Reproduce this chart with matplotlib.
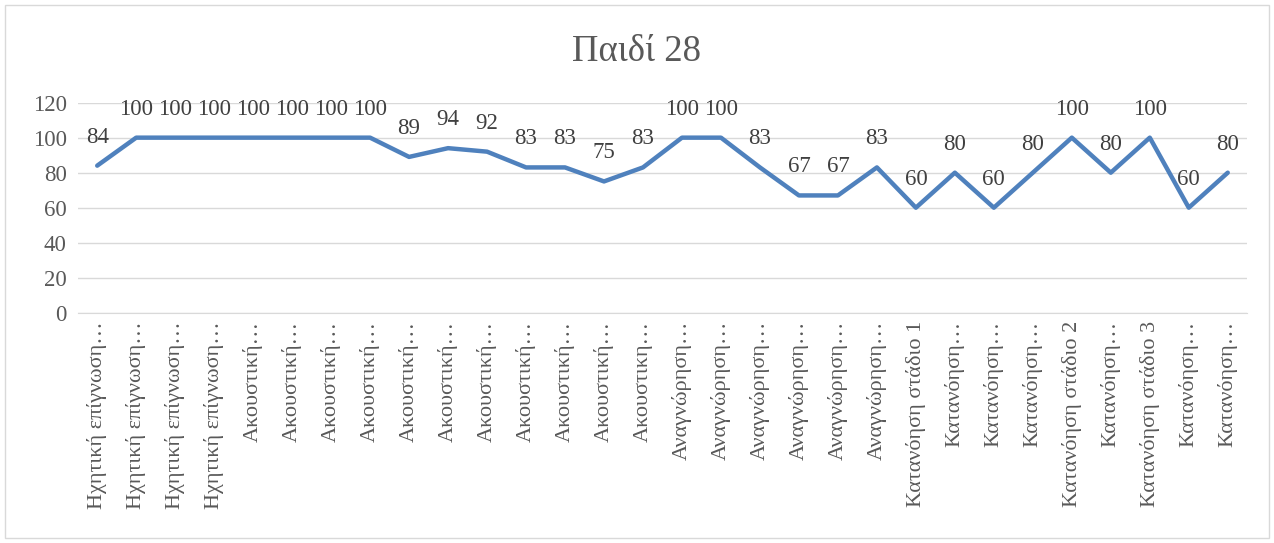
import matplotlib.pyplot as plt
from matplotlib.patches import Rectangle

plt.rcParams['font.family'] = ['Liberation Serif', 'DejaVu Serif']

labels = (['Ηχητική επίγνωση…'] * 4 + ['Ακουστική…'] * 10 + ['Ακουστικη…']
          + ['Αναγνώρηση…'] * 6
          + ['Κατανόηση στάδιο 1', 'Κατανόηση…', 'Κατανόηση…', 'Κατανόηση…',
             'Κατανόηση στάδιο 2', 'Κατανόηση…', 'Κατανόηση στάδιο 3',
             'Κατανόηση…', 'Κατανόηση…'])
values = [84, 100, 100, 100, 100, 100, 100, 100, 89, 94, 92, 83, 83, 75, 83,
          100, 100, 83, 67, 67, 83, 60, 80, 60, 80, 100, 80, 100, 60, 80]
yticks = [0, 20, 40, 60, 80, 100, 120]
title = 'Παιδί 28'

fig = plt.figure(figsize=(12.74, 5.43), dpi=100)
fig.patches.append(Rectangle((0.004, 0.01), 0.992, 0.98, transform=fig.transFigure,
                             fill=False, edgecolor='#d9d9d9', linewidth=1))
ax = fig.add_axes([0.061, 0.424, 0.918, 0.387])

x = list(range(len(values)))
ax.plot(x, values, color='#4f81bd', linewidth=3.2, solid_capstyle='round',
        solid_joinstyle='round', zorder=3)
for xi, v in zip(x, values):
    ax.annotate(str(v), (xi, v), xytext=(0, 13), textcoords='offset points',
                ha='center', va='bottom', fontsize=16.5, color='#404040')

ax.set_xlim(-0.5, len(values) - 0.5)
ax.set_ylim(0, 120)
ax.set_yticks(yticks)
ax.yaxis.grid(True, color='#d9d9d9', linewidth=1)
ax.set_axisbelow(True)
ax.set_xticks(x)
ax.set_xticklabels(labels, rotation=90, fontsize=16, color='#595959')
ax.tick_params(axis='y', labelsize=16.5, labelcolor='#595959', length=0, pad=8)
ax.tick_params(axis='x', length=0, pad=6)
for s in ['top', 'right', 'left']:
    ax.spines[s].set_visible(False)
ax.spines['bottom'].set_color('#d9d9d9')

fig.text(0.5, 0.905, title, ha='center', va='center', fontsize=26.5, color='#595959')

fig.savefig('out.png', dpi=100)
